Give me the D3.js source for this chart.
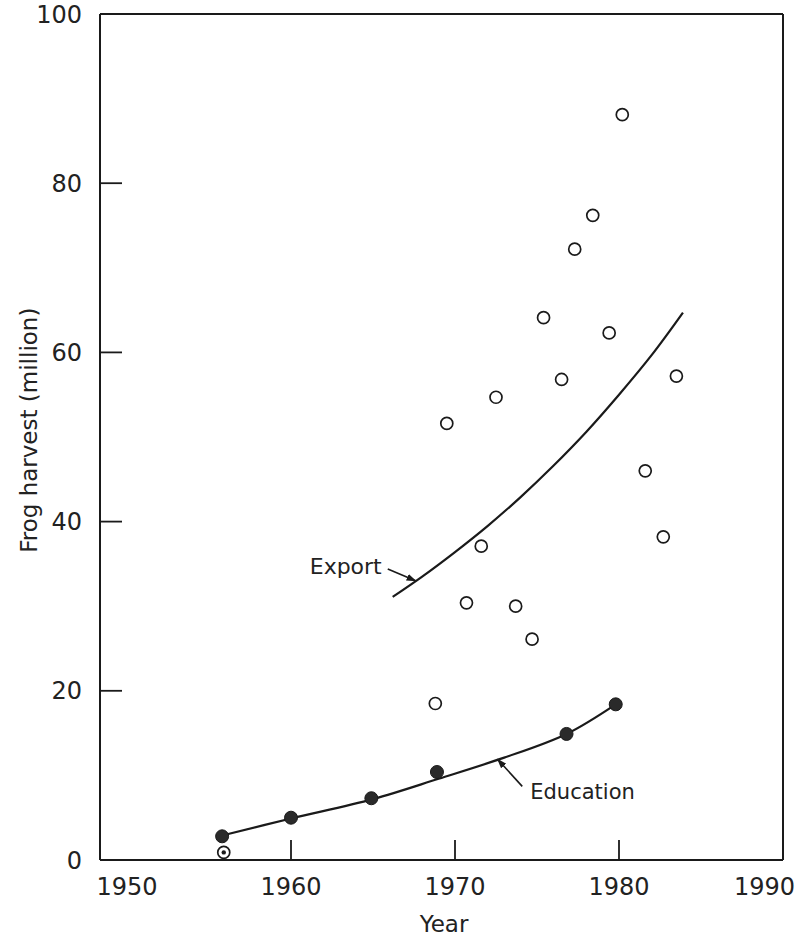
<!DOCTYPE html>
<html>
<head>
<meta charset="utf-8">
<script src="https://cdn.jsdelivr.net/npm/d3@7"></script>
<style>
  html, body { margin: 0; padding: 0; background: #fff; }
  svg { display: block; }
  text { font-family: "DejaVu Sans", "Liberation Sans", sans-serif; fill: #222; }
</style>
</head>
<body>
<svg id="chart" width="800" height="936"></svg>
<script>
// ---------- data ----------
const xTicks = [1950, 1960, 1970, 1980, 1990];
const yTicks = [0, 20, 40, 60, 80, 100];

// Export harvest (open circles)
const exportYears  = [1968.8, 1969.5, 1970.7, 1971.6, 1972.5, 1973.7, 1974.7, 1975.4, 1976.5, 1977.3, 1978.4, 1979.4, 1980.2, 1981.6, 1982.7, 1983.5];
const exportValues = [18.5,   51.6,   30.4,   37.1,   54.7,   30.0,   26.1,   64.1,   56.8,   72.2,   76.2,   62.3,   88.1,   46.0,   38.2,   57.2];

// Export trend curve
const exportCurveYears  = [1966.2, 1968, 1970, 1972, 1974, 1976, 1978, 1980, 1982, 1983.9];
const exportCurveValues = [31.1,   33.5, 36.4, 39.5, 42.9, 46.6, 50.6, 55.0, 59.7, 64.7];

// Education harvest (filled circles)
const eduYears  = [1955.8, 1960.0, 1964.9, 1968.9, 1976.8, 1979.8];
const eduValues = [2.8,    5.0,    7.3,    10.4,   14.9,   18.4];

// Education trend curve
const eduCurveYears  = [1955.8, 1960.0, 1965.0, 1969.0, 1973.0, 1976.8, 1979.8];
const eduCurveValues = [2.9,    4.9,    7.2,    9.6,    12.1,   14.9,   18.4];

// Single dotted circle
const dotYears  = [1955.9];
const dotValues = [0.9];

// Annotations: label, arrow start (year, value), arrow tip (year, value)
const annoLabels = ["Export", "Education"];
const annoFrom   = [[1965.9, 34.4], [1974.1, 8.7]];
const annoTo     = [[1967.6, 33.0], [1972.6, 11.9]];

// ---------- chart ----------
const svg = d3.select("#chart");
const ink = "#1a1a1a";

const x = d3.scaleLinear().domain([1950, 1990]).range([127, 783]);
const y = d3.scaleLinear().domain([0, 100]).range([860, 14]);
const frameLeft = 100;

// defs: arrow head
svg.append("defs").append("marker")
  .attr("id", "arrow")
  .attr("viewBox", "0 0 10 10")
  .attr("refX", 9).attr("refY", 5)
  .attr("markerWidth", 10).attr("markerHeight", 10)
  .attr("markerUnits", "userSpaceOnUse")
  .attr("orient", "auto")
  .append("path").attr("d", "M0,1.5 L10,5 L0,8.5 Z").attr("fill", ink);

// Frame
const frame = svg.append("g").attr("fill", "none").attr("stroke", ink).attr("stroke-width", 2);
frame.append("line").attr("x1", frameLeft).attr("x2", x(1990)).attr("y1", y(0)).attr("y2", y(0));
frame.append("line").attr("x1", frameLeft).attr("x2", x(1990)).attr("y1", y(100)).attr("y2", y(100));
frame.append("line").attr("x1", frameLeft).attr("x2", frameLeft).attr("y1", y(0)).attr("y2", y(100));
frame.append("line").attr("x1", x(1990)).attr("x2", x(1990)).attr("y1", y(0)).attr("y2", y(100));

// Y axis ticks (inward) and labels
const yAxisG = svg.append("g");
yAxisG.selectAll("line").data(yTicks.filter(d => d > 0 && d < 100)).join("line")
  .attr("x1", frameLeft).attr("x2", frameLeft + 22)
  .attr("y1", d => y(d)).attr("y2", d => y(d))
  .attr("stroke", ink).attr("stroke-width", 1.8);
yAxisG.selectAll("text").data(yTicks).join("text")
  .attr("x", frameLeft - 18).attr("y", d => y(d))
  .attr("dy", "0.36em")
  .attr("text-anchor", "end")
  .attr("font-size", 24)
  .text(d => d);

// X axis ticks (inward) and labels
const xAxisG = svg.append("g");
xAxisG.selectAll("line").data(xTicks.filter(d => d > 1950 && d < 1990)).join("line")
  .attr("x1", d => x(d)).attr("x2", d => x(d))
  .attr("y1", y(0)).attr("y2", y(0) - 20)
  .attr("stroke", ink).attr("stroke-width", 1.8);
xAxisG.selectAll("text").data(xTicks).join("text")
  .attr("x", d => d === 1990 ? x(d) + 12 : x(d))
  .attr("y", y(0) + 35)
  .attr("text-anchor", d => d === 1990 ? "end" : "middle")
  .attr("font-size", 24)
  .text(d => d);

// Axis titles
svg.append("text")
  .attr("x", 444).attr("y", 932)
  .attr("text-anchor", "middle")
  .attr("font-size", 23)
  .text("Year");
svg.append("text")
  .attr("transform", `translate(37, ${y(50.8)}) rotate(-90)`)
  .attr("text-anchor", "middle")
  .attr("font-size", 23)
  .text("Frog harvest (million)");

// Curves
svg.append("path")
  .datum(exportCurveYears.map((yr, i) => [yr, exportCurveValues[i]]))
  .attr("d", d3.line().x(d => x(d[0])).y(d => y(d[1])).curve(d3.curveCatmullRom))
  .attr("fill", "none").attr("stroke", ink).attr("stroke-width", 2.2);
svg.append("path")
  .datum(eduCurveYears.map((yr, i) => [yr, eduCurveValues[i]]))
  .attr("d", d3.line().x(d => x(d[0])).y(d => y(d[1])).curve(d3.curveCatmullRom))
  .attr("fill", "none").attr("stroke", ink).attr("stroke-width", 2.2);

// Export points (open circles)
svg.append("g").selectAll("circle")
  .data(exportYears.map((yr, i) => [yr, exportValues[i]]))
  .join("circle")
  .attr("cx", d => x(d[0])).attr("cy", d => y(d[1])).attr("r", 6)
  .attr("fill", "#fff").attr("stroke", ink).attr("stroke-width", 1.7);

// Education points (filled circles)
svg.append("g").selectAll("circle")
  .data(eduYears.map((yr, i) => [yr, eduValues[i]]))
  .join("circle")
  .attr("cx", d => x(d[0])).attr("cy", d => y(d[1])).attr("r", 6.5)
  .attr("fill", "#2a2a2a").attr("stroke", ink).attr("stroke-width", 1);

// Dotted circle
const dotG = svg.append("g");
dotG.selectAll("circle.o").data(dotYears.map((yr, i) => [yr, dotValues[i]])).join("circle")
  .attr("class", "o")
  .attr("cx", d => x(d[0])).attr("cy", d => y(d[1])).attr("r", 6)
  .attr("fill", "#fff").attr("stroke", ink).attr("stroke-width", 1.7);
dotG.selectAll("circle.i").data(dotYears.map((yr, i) => [yr, dotValues[i]])).join("circle")
  .attr("class", "i")
  .attr("cx", d => x(d[0])).attr("cy", d => y(d[1])).attr("r", 2.2)
  .attr("fill", ink);

// Annotations
const anno = svg.append("g");
annoLabels.forEach((lab, i) => {
  const f = annoFrom[i], t = annoTo[i];
  anno.append("line")
    .attr("x1", x(f[0])).attr("y1", y(f[1]))
    .attr("x2", x(t[0])).attr("y2", y(t[1]))
    .attr("stroke", ink).attr("stroke-width", 1.6)
    .attr("marker-end", "url(#arrow)");
  if (i === 0) {
    anno.append("text")
      .attr("x", x(f[0]) - 6).attr("y", y(f[1]) + 5)
      .attr("text-anchor", "end").attr("font-size", 22)
      .text(lab);
  } else {
    anno.append("text")
      .attr("x", x(f[0]) + 8).attr("y", y(f[1]) + 13)
      .attr("text-anchor", "start").attr("font-size", 21)
      .text(lab);
  }
});
</script>
</body>
</html>
